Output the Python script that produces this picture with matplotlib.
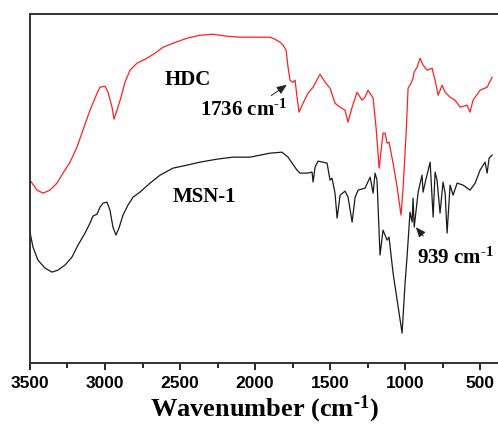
import matplotlib
matplotlib.use("Agg")
import matplotlib.pyplot as plt
from matplotlib.ticker import MultipleLocator

plt.rcParams["mathtext.fontset"] = "custom"
plt.rcParams["mathtext.rm"] = "Liberation Serif:bold"
plt.rcParams["mathtext.bf"] = "Liberation Serif:bold"
plt.rcParams["mathtext.default"] = "bf"

# HDC spectrum (wavenumber, transmittance a.u.)
hdc_wn = [3500, 3453, 3413, 3367, 3320, 3280, 3233, 3187, 3147, 3100, 3053, 3033, 3000,
          2980, 2953, 2940, 2920, 2893, 2867, 2833, 2787, 2720, 2667, 2613, 2547, 2453,
          2367, 2280, 2187, 2100, 2033, 1900, 1867, 1833, 1813, 1793, 1780, 1767, 1747,
          1733, 1720, 1707, 1680, 1647, 1613, 1567, 1533, 1500, 1467, 1433, 1400, 1380,
          1353, 1320, 1287, 1267, 1247, 1213, 1193, 1173, 1147, 1133, 1120, 1107, 1080,
          1053, 1027, 1013, 993, 980, 960, 947, 940, 920, 900, 880, 853, 820, 800, 780,
          753, 733, 700, 667, 633, 587, 567, 547, 500, 453, 420]
hdc_t = [183, 173, 170, 173, 180, 190, 201, 216, 233, 253, 270, 276, 277,
         271, 256, 244, 253, 266, 281, 293, 300, 305, 310, 316, 320, 325,
         328, 329, 327, 326, 326, 326, 324, 321, 318, 313, 296, 283, 281,
         283, 266, 251, 260, 270, 276, 289, 281, 275, 260, 256, 253, 241,
         256, 271, 263, 266, 273, 265, 235, 195, 230, 230, 220, 221, 200,
         176, 148, 176, 230, 275, 280, 285, 291, 296, 305, 298, 293, 295, 283, 268,
         278, 271, 266, 263, 256, 258, 251, 263, 273, 276, 286]

# MSN-1 spectrum
msn_wn = [3500, 3480, 3447, 3400, 3353, 3313, 3267, 3220, 3180, 3133, 3100, 3080, 3053,
          3033, 3013, 2987, 2967, 2947, 2927, 2907, 2880, 2847, 2813, 2767, 2700, 2633,
          2547, 2453, 2367, 2253, 2147, 2033, 1967, 1900, 1820, 1780, 1753, 1720, 1700,
          1653, 1620, 1613, 1600, 1580, 1547, 1520, 1500, 1487, 1467, 1453, 1433, 1400,
          1380, 1353, 1333, 1313, 1267, 1233, 1213, 1200, 1187, 1167, 1147, 1120, 1107,
          1080, 1053, 1020, 1000, 987, 967, 953, 947, 939, 913, 887, 880, 867, 833, 813,
          800, 787, 767, 747, 733, 720, 700, 680, 653, 613, 567, 533, 500, 467, 453,
          440, 420]
msn_t = [131, 116, 103, 95, 91, 93, 98, 106, 118, 130, 140, 147, 149,
         156, 160, 161, 153, 136, 128, 135, 148, 158, 166, 171, 180, 188,
         195, 198, 201, 204, 206, 206, 208, 210, 211, 206, 200, 193, 190,
         190, 191, 181, 196, 202, 201, 200, 183, 185, 170, 145, 168, 172,
         166, 141, 166, 173, 175, 186, 170, 190, 183, 108, 133, 123, 126,
         90, 63, 30, 80, 106, 151, 141, 165, 136, 171, 188, 171, 180, 201, 146,
         191, 183, 150, 181, 170, 130, 178, 168, 180, 178, 173, 180, 193, 201, 190,
         205, 208]

fig = plt.figure(figsize=(4.98, 4.29), dpi=100)
ax = fig.add_axes([0.0602, 0.1538, 0.94, 0.813])

ax.plot(hdc_wn, hdc_t, color="#ff2020", lw=0.9)
ax.plot(msn_wn, msn_t, color="#1a1a1a", lw=0.9)

ax.set_xlim(3500, 380)
ax.set_ylim(0, 349)
ax.xaxis.set_major_locator(MultipleLocator(500))
ax.xaxis.set_minor_locator(MultipleLocator(250))
ax.set_yticks([])
ax.tick_params(axis="x", which="major", direction="out", length=5, width=1.2, pad=4)
ax.tick_params(axis="x", which="minor", direction="out", length=3.5, width=1.2)
for lab in ax.get_xticklabels():
    lab.set_fontfamily("Liberation Sans")
    lab.set_fontweight("bold")
    lab.set_fontsize(12.5)
for side in ["left", "bottom", "top"]:
    ax.spines[side].set_linewidth(1.4)
    ax.spines[side].set_color("#333333")
ax.spines["right"].set_visible(False)

ax.set_xlabel(r"Wavenumber (cm$^{\text{-1}}$)", fontfamily="Liberation Serif",
              fontweight="bold", fontsize=19, labelpad=2)

serif = dict(fontfamily="Liberation Serif", fontweight="bold", fontsize=15)
ax.text(2447, 283, "HDC", ha="center", va="center", **serif)
ax.text(2367, 253, r"1736 cm$^{\text{-1}}$", ha="left", va="center", **serif)
ax.text(2547, 166, "MSN-1", ha="left", va="center", **serif)
ax.text(920, 105, r"939 cm$^{\text{-1}}$", ha="left", va="center", **serif)

arrow = dict(arrowstyle="-|>,head_length=0.6,head_width=0.25", color="#222222", lw=0.7)
ax.annotate("", xy=(1773, 280), xytext=(1907, 266), arrowprops=arrow)
ax.annotate("", xy=(940, 138), xytext=(867, 125), arrowprops=arrow)

fig.savefig("out.png", dpi=100)
